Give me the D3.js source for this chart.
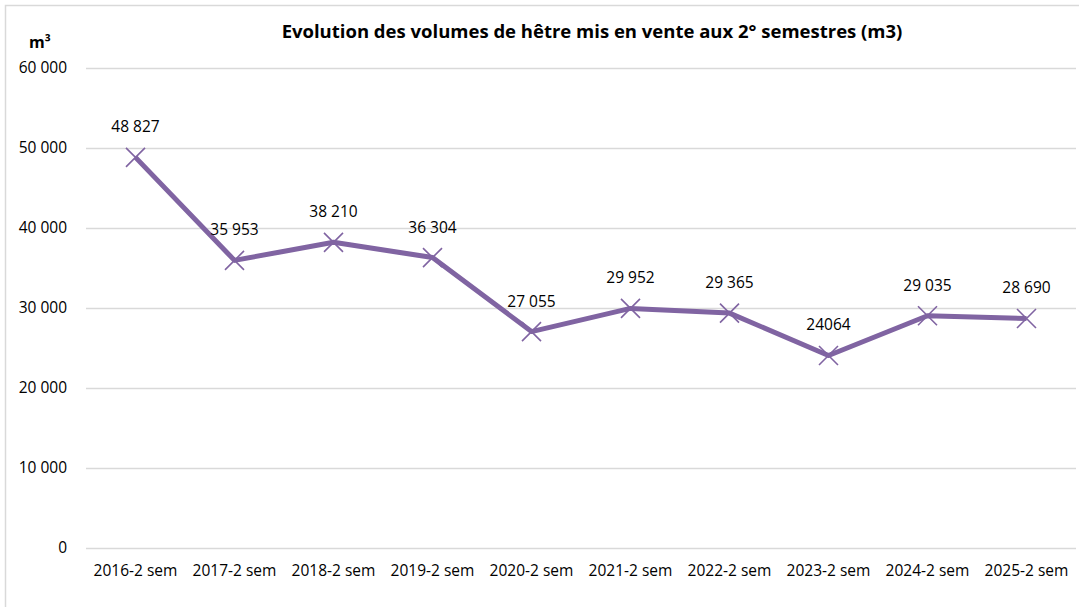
<!DOCTYPE html>
<html>
<head>
<meta charset="utf-8">
<script src="https://cdn.jsdelivr.net/npm/d3@7"></script>
<style>
  body { margin: 0; background: #fff; }
  svg { font-family: "Open Sans", sans-serif; }
</style>
</head>
<body>
<svg></svg>
<script>
const categories = ["2016-2 sem", "2017-2 sem", "2018-2 sem", "2019-2 sem", "2020-2 sem",
                    "2021-2 sem", "2022-2 sem", "2023-2 sem", "2024-2 sem", "2025-2 sem"];
const volumes = [48827, 35953, 38210, 36304, 27055, 29952, 29365, 24064, 29035, 28690];
const valueLabels = ["48 827", "35 953", "38 210", "36 304", "27 055",
                     "29 952", "29 365", "24064", "29 035", "28 690"];
const yTicks = [0, 10000, 20000, 30000, 40000, 50000, 60000];

let width = 1079;
let height = 607;
let color = "#8064A2";
let font = '"Open Sans", sans-serif';

let svg = d3.select('svg')
    .attr('width', width)
    .attr('height', height)

// chart frame
svg.append('rect')
   .attr('x', 5.5).attr('y', 5.5)
   .attr('width', width + 10).attr('height', height + 10)
   .attr('fill', 'none')
   .attr('stroke', '#d9d9d9')
   .attr('stroke-width', 1.5)

let xScale = d3.scaleBand()
               .domain(categories)
               .range([86, 1076])

let yScale = d3.scaleLinear()
               .domain([0, 60000])
               .range([548, 68])

let fmt = d => d3.format(",")(d).replace(/,/g, "\u00a0")

// gridlines + y labels
let yAxis = d3.axisLeft(yScale)
              .tickValues(yTicks)
              .tickSize(-(1076 - 86))
              .tickPadding(19)
              .tickFormat(fmt)

svg.append('g')
   .attr('transform', 'translate(86,0)')
   .call(yAxis)
   .call(g => g.select('.domain').remove())
   .call(g => g.selectAll('.tick line').attr('stroke', '#d9d9d9').attr('stroke-width', 1.5))
   .call(g => g.selectAll('.tick text').attr('font-size', 15.5).attr('fill', '#000').attr('font-family', font))

let xAxis = d3.axisBottom(xScale).tickSize(0).tickPadding(17)

svg.append('g')
   .attr('transform', 'translate(0,548)')
   .call(xAxis)
   .call(g => g.select('.domain').remove())
   .call(g => g.selectAll('.tick text').attr('font-size', 15.5).attr('fill', '#000').attr('font-family', font))

let cx = d => xScale(d) + xScale.bandwidth() / 2

let line = d3.line()
             .x((d, i) => cx(categories[i]))
             .y(d => yScale(d))

svg.append('path')
   .datum(volumes)
   .attr('d', line)
   .attr('fill', 'none')
   .attr('stroke', color)
   .attr('stroke-width', 5)
   .attr('stroke-linejoin', 'round')

// X markers
let m = 9.5
svg.selectAll('.marker')
   .data(volumes)
   .enter()
   .append('path')
   .attr('class', 'marker')
   .attr('d', (d, i) => {
       let x = cx(categories[i]), y = yScale(d)
       return `M${x - m},${y - m}L${x + m},${y + m}M${x - m},${y + m}L${x + m},${y - m}`
   })
   .attr('stroke', color)
   .attr('stroke-width', 1.6)
   .attr('fill', 'none')

svg.selectAll('.vlabel')
   .data(volumes)
   .enter()
   .append('text')
   .attr('class', 'vlabel')
   .attr('x', (d, i) => cx(categories[i]))
   .attr('y', d => yScale(d) - 25)
   .attr('text-anchor', 'middle')
   .attr('font-size', 15.5)
   .attr('fill', '#000')
   .text((d, i) => valueLabels[i])

svg.append('text')
   .attr('x', 592)
   .attr('y', 38)
   .attr('text-anchor', 'middle')
   .attr('font-size', 18.5)
   .attr('font-weight', 'bold')
   .text('Evolution des volumes de hêtre mis en vente aux 2° semestres (m3)')

svg.append('text')
   .attr('x', 40)
   .attr('y', 48)
   .attr('text-anchor', 'middle')
   .attr('font-size', 16)
   .attr('font-weight', 'bold')
   .text('m³')
</script>
</body>
</html>
